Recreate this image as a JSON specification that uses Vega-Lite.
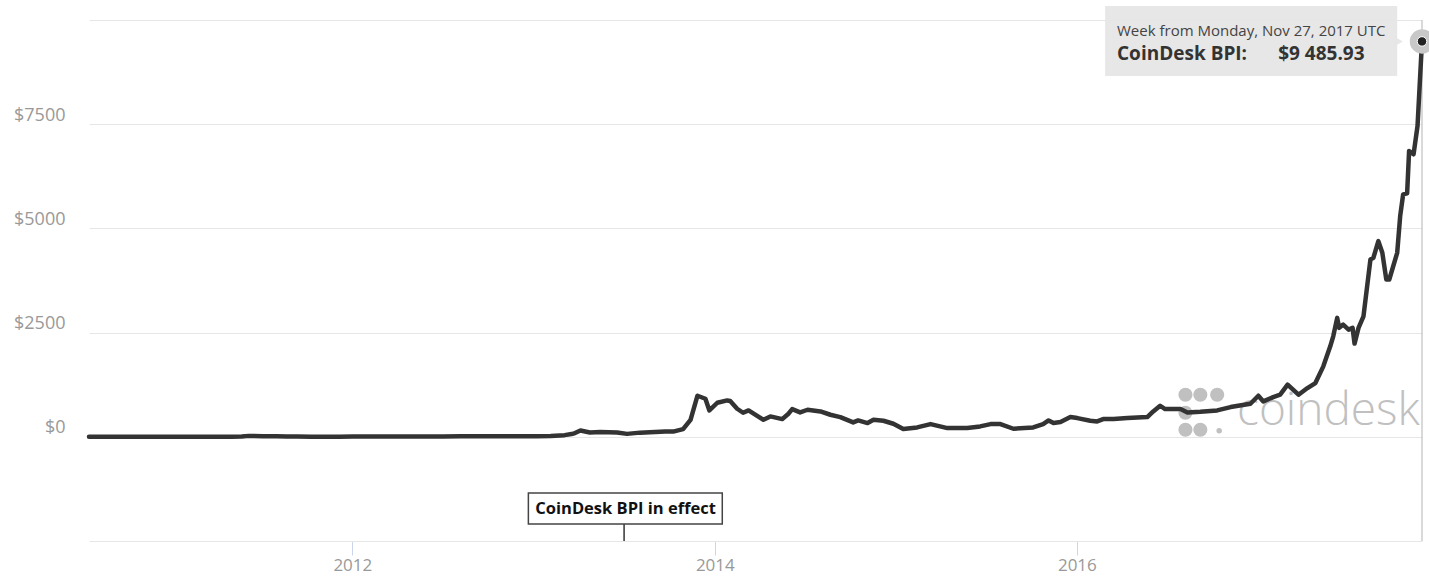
{
  "$schema": "https://vega.github.io/schema/vega-lite/v6.json",
  "width": 1333,
  "height": 521,
  "autosize": {"type": "none"},
  "padding": {"left": 89, "top": 20, "right": 7, "bottom": 36},
  "background": "white",
  "config": {
    "view": {"stroke": null},
    "font": "Open Sans"
  },
  "encoding": {
    "x": {
      "field": "date", "type": "temporal",
      "scale": {"domain": ["2010-07-19", "2017-11-27"], "nice": false},
      "axis": {
        "title": null,
        "values": [{"year": 2012}, {"year": 2014}, {"year": 2016}],
        "format": "%Y",
        "grid": false,
        "domainColor": "#e6e6e6",
        "domainWidth": 1,
        "tickColor": "#ccd6eb",
        "tickSize": 14,
        "tickWidth": 1,
        "labelPadding": 2,
        "labelFont": "Open Sans",
        "labelFontSize": 17,
        "labelColor": "#999999"
      }
    },
    "y": {
      "field": "value", "type": "quantitative",
      "scale": {"domain": [-2500, 10000], "nice": false, "zero": false},
      "axis": {
        "title": null,
        "values": [0, 2500, 5000, 7500, 10000],
        "labelExpr": "datum.value >= 10000 ? '' : '$' + datum.value",
        "grid": true,
        "gridColor": "#e6e6e6",
        "gridWidth": 1,
        "domain": false,
        "ticks": false,
        "labelPadding": 24,
        "labelOffset": -9,
        "labelFont": "Open Sans",
        "labelFontSize": 18,
        "labelColor": "#999999"
      }
    }
  },
  "layer": [
    {
      "data": {"values": [{"date": "2016-11-19", "value": 288, "label": "coindesk"}]},
      "mark": {"type": "text", "align": "left", "baseline": "alphabetic", "font": "Open Sans", "fontWeight": 300, "fontSize": 46, "color": "#c0c0c0"},
      "encoding": {"text": {"field": "label"}}
    },
    {
      "data": {"values": [
        {"date": "2016-08-07", "value": 1010, "s": 200},
        {"date": "2016-09-06", "value": 1010, "s": 200},
        {"date": "2016-10-10", "value": 1010, "s": 200},
        {"date": "2016-08-07", "value": 577, "s": 200},
        {"date": "2016-08-07", "value": 168, "s": 200},
        {"date": "2016-09-06", "value": 168, "s": 200},
        {"date": "2016-10-14", "value": 144, "s": 30}
      ]},
      "mark": {"type": "point", "shape": "circle", "filled": true, "color": "#c0c0c0", "opacity": 1},
      "encoding": {"size": {"field": "s", "type": "quantitative", "scale": null, "legend": null}}
    },
    {
      "data": {"values": [{"date": "2013-07-02", "value": -2091, "value2": -2500}]},
      "mark": {"type": "rule", "color": "#333333", "strokeWidth": 1.5},
      "encoding": {"y2": {"field": "value2"}}
    },
    {
      "data": {"values": [{"date": "2012-12-21", "date2": "2014-01-16", "value": -1346, "value2": -2091}]},
      "mark": {"type": "rect", "fill": "white", "stroke": "#444444", "strokeWidth": 1.5},
      "encoding": {"x2": {"field": "date2"}, "y2": {"field": "value2"}}
    },
    {
      "data": {"values": [{"date": "2013-07-05", "value": -1740, "label": "CoinDesk BPI in effect"}]},
      "mark": {"type": "text", "align": "center", "baseline": "middle", "font": "Open Sans", "fontWeight": "bold", "fontSize": 16.5, "color": "#111111"},
      "encoding": {"text": {"field": "label"}}
    },
    {
      "data": {"values": [{"date": "2017-11-27", "value": 10000, "value2": -2500}]},
      "mark": {"type": "rule", "color": "#cccccc", "strokeWidth": 1.5},
      "encoding": {"y2": {"field": "value2"}}
    },
    {
      "data": {"values": [
        {"date": "2010-07-19", "value": 0.08},
        {"date": "2010-08-16", "value": 0.07},
        {"date": "2010-09-13", "value": 0.06},
        {"date": "2010-10-11", "value": 0.1},
        {"date": "2010-11-08", "value": 0.28},
        {"date": "2010-12-06", "value": 0.22},
        {"date": "2011-01-03", "value": 0.3},
        {"date": "2011-02-07", "value": 0.9},
        {"date": "2011-03-07", "value": 0.9},
        {"date": "2011-04-04", "value": 0.75},
        {"date": "2011-05-02", "value": 3.5},
        {"date": "2011-05-23", "value": 7.5},
        {"date": "2011-06-06", "value": 22},
        {"date": "2011-06-13", "value": 18},
        {"date": "2011-07-04", "value": 15},
        {"date": "2011-08-01", "value": 12},
        {"date": "2011-08-22", "value": 10},
        {"date": "2011-09-12", "value": 6},
        {"date": "2011-10-10", "value": 4},
        {"date": "2011-11-07", "value": 3},
        {"date": "2011-12-05", "value": 3},
        {"date": "2012-01-02", "value": 6},
        {"date": "2012-02-06", "value": 5.5},
        {"date": "2012-03-05", "value": 5},
        {"date": "2012-04-02", "value": 5},
        {"date": "2012-05-07", "value": 5},
        {"date": "2012-06-04", "value": 5.5},
        {"date": "2012-07-02", "value": 7},
        {"date": "2012-08-06", "value": 11},
        {"date": "2012-09-03", "value": 11},
        {"date": "2012-10-01", "value": 12},
        {"date": "2012-11-05", "value": 11},
        {"date": "2012-12-03", "value": 13},
        {"date": "2013-01-07", "value": 14},
        {"date": "2013-02-04", "value": 21},
        {"date": "2013-03-04", "value": 40},
        {"date": "2013-03-18", "value": 65},
        {"date": "2013-03-25", "value": 90},
        {"date": "2013-04-05", "value": 150},
        {"date": "2013-04-24", "value": 105},
        {"date": "2013-05-15", "value": 115},
        {"date": "2013-06-18", "value": 105},
        {"date": "2013-07-08", "value": 70},
        {"date": "2013-08-03", "value": 100},
        {"date": "2013-08-23", "value": 110},
        {"date": "2013-09-23", "value": 130},
        {"date": "2013-10-09", "value": 125},
        {"date": "2013-10-29", "value": 185},
        {"date": "2013-11-13", "value": 408},
        {"date": "2013-11-27", "value": 985},
        {"date": "2013-12-13", "value": 913},
        {"date": "2013-12-21", "value": 633},
        {"date": "2014-01-06", "value": 817},
        {"date": "2014-01-26", "value": 873},
        {"date": "2014-02-01", "value": 860},
        {"date": "2014-02-15", "value": 673},
        {"date": "2014-02-27", "value": 577},
        {"date": "2014-03-10", "value": 633},
        {"date": "2014-03-25", "value": 520},
        {"date": "2014-04-09", "value": 409},
        {"date": "2014-04-23", "value": 489},
        {"date": "2014-05-17", "value": 425},
        {"date": "2014-05-30", "value": 560},
        {"date": "2014-06-06", "value": 665},
        {"date": "2014-06-22", "value": 585},
        {"date": "2014-07-07", "value": 649},
        {"date": "2014-08-02", "value": 609},
        {"date": "2014-08-22", "value": 529},
        {"date": "2014-09-11", "value": 473},
        {"date": "2014-10-07", "value": 345},
        {"date": "2014-10-17", "value": 393},
        {"date": "2014-11-05", "value": 329},
        {"date": "2014-11-17", "value": 409},
        {"date": "2014-12-07", "value": 385},
        {"date": "2014-12-27", "value": 313},
        {"date": "2015-01-16", "value": 185},
        {"date": "2015-02-13", "value": 225},
        {"date": "2015-03-12", "value": 305},
        {"date": "2015-04-15", "value": 209},
        {"date": "2015-05-25", "value": 209},
        {"date": "2015-06-20", "value": 249},
        {"date": "2015-07-11", "value": 305},
        {"date": "2015-07-31", "value": 305},
        {"date": "2015-08-26", "value": 193},
        {"date": "2015-10-05", "value": 225},
        {"date": "2015-10-25", "value": 305},
        {"date": "2015-11-05", "value": 393},
        {"date": "2015-11-15", "value": 329},
        {"date": "2015-11-29", "value": 353},
        {"date": "2015-12-19", "value": 473},
        {"date": "2016-01-02", "value": 449},
        {"date": "2016-01-28", "value": 385},
        {"date": "2016-02-11", "value": 369},
        {"date": "2016-02-23", "value": 425},
        {"date": "2016-03-15", "value": 425},
        {"date": "2016-04-12", "value": 449},
        {"date": "2016-05-22", "value": 473},
        {"date": "2016-06-03", "value": 609},
        {"date": "2016-06-17", "value": 745},
        {"date": "2016-06-27", "value": 665},
        {"date": "2016-07-28", "value": 665},
        {"date": "2016-08-11", "value": 585},
        {"date": "2016-09-06", "value": 601},
        {"date": "2016-10-10", "value": 633},
        {"date": "2016-11-06", "value": 713},
        {"date": "2016-12-16", "value": 793},
        {"date": "2017-01-01", "value": 985},
        {"date": "2017-01-11", "value": 849},
        {"date": "2017-01-31", "value": 953},
        {"date": "2017-02-14", "value": 1010},
        {"date": "2017-03-01", "value": 1250},
        {"date": "2017-03-23", "value": 1010},
        {"date": "2017-04-10", "value": 1170},
        {"date": "2017-04-26", "value": 1290},
        {"date": "2017-05-12", "value": 1690},
        {"date": "2017-05-26", "value": 2171},
        {"date": "2017-06-01", "value": 2411},
        {"date": "2017-06-09", "value": 2853},
        {"date": "2017-06-13", "value": 2613},
        {"date": "2017-06-21", "value": 2692},
        {"date": "2017-07-02", "value": 2572},
        {"date": "2017-07-10", "value": 2613},
        {"date": "2017-07-14", "value": 2236},
        {"date": "2017-07-22", "value": 2613},
        {"date": "2017-08-01", "value": 2892},
        {"date": "2017-08-15", "value": 4255},
        {"date": "2017-08-21", "value": 4296},
        {"date": "2017-08-31", "value": 4695},
        {"date": "2017-09-08", "value": 4415},
        {"date": "2017-09-16", "value": 3774},
        {"date": "2017-09-22", "value": 3774},
        {"date": "2017-10-08", "value": 4415},
        {"date": "2017-10-14", "value": 5296},
        {"date": "2017-10-20", "value": 5817},
        {"date": "2017-10-28", "value": 5841},
        {"date": "2017-11-01", "value": 6858},
        {"date": "2017-11-10", "value": 6779},
        {"date": "2017-11-18", "value": 7460},
        {"date": "2017-11-27", "value": 9485.93}
      ]},
      "mark": {"type": "line", "color": "#333333", "strokeWidth": 4.5, "strokeJoin": "round", "strokeCap": "round"}
    },
    {
      "data": {"values": [{"date": "2016-02-27", "date2": "2017-10-08", "value": 10337, "value2": 8654}]},
      "mark": {"type": "rect", "fill": "#e6e6e6", "opacity": 0.95},
      "encoding": {"x2": {"field": "date2"}, "y2": {"field": "value2"}}
    },
    {
      "data": {"values": [{"date": "2017-10-11", "value": 9486}]},
      "mark": {"type": "point", "shape": "triangle-right", "filled": true, "color": "#e6e6e6", "opacity": 0.95, "size": 90}
    },
    {
      "data": {"values": [{"date": "2016-03-22", "value": 9616, "label": "Week from Monday, Nov 27, 2017 UTC"}]},
      "mark": {"type": "text", "align": "left", "baseline": "alphabetic", "font": "Open Sans", "fontSize": 15, "color": "#444444"},
      "encoding": {"text": {"field": "label"}}
    },
    {
      "data": {"values": [
        {"date": "2016-03-22", "value": 9040, "label": "CoinDesk BPI:"},
        {"date": "2017-02-10", "value": 9040, "label": "$9 485.93"}
      ]},
      "mark": {"type": "text", "align": "left", "baseline": "alphabetic", "font": "Open Sans", "fontWeight": "bold", "fontSize": 19, "color": "#333333"},
      "encoding": {"text": {"field": "label"}}
    },
    {
      "data": {"values": [{"date": "2017-11-27", "value": 9485.93}]},
      "mark": {"type": "point", "shape": "circle", "filled": true, "color": "#c8c8c8", "opacity": 1, "size": 600}
    },
    {
      "data": {"values": [{"date": "2017-11-27", "value": 9485.93}]},
      "mark": {"type": "point", "shape": "circle", "filled": true, "color": "#222222", "opacity": 1, "size": 90, "stroke": "white", "strokeWidth": 1}
    }
  ]
}
